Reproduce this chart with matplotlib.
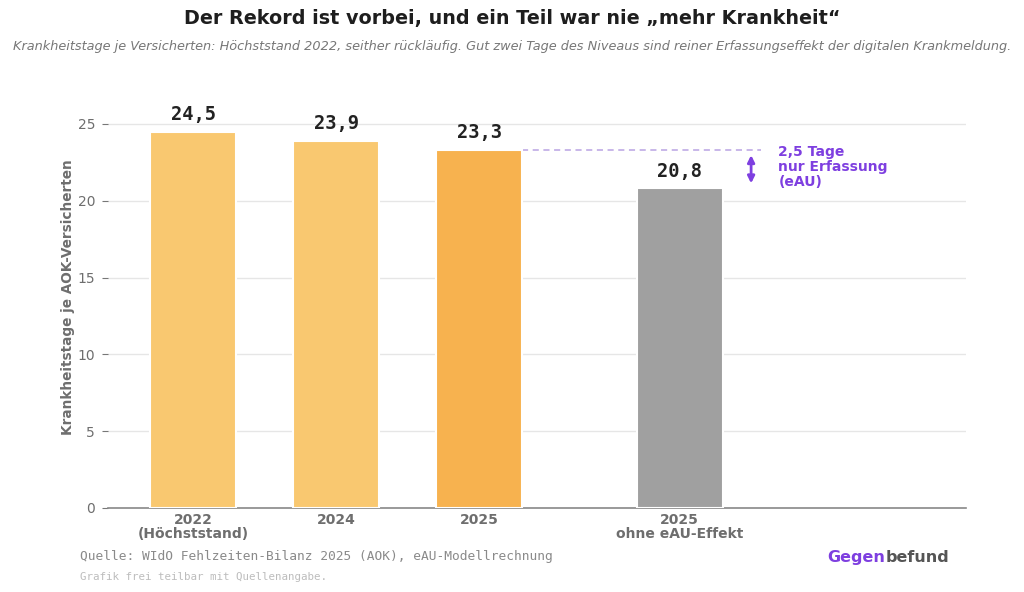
import matplotlib
matplotlib.use("Agg")
import matplotlib.pyplot as plt

# DATA
labels = ["2022\n(Höchststand)", "2024", "2025", "2025\nohne eAU-Effekt"]
positions = [0, 1, 2, 3.4]
values = [24.5, 23.9, 23.3, 20.8]
value_texts = ["24,5", "23,9", "23,3", "20,8"]
bar_colors = ["#F9C870", "#F9C870", "#F7B24F", "#A0A0A0"]
yticks = [0, 5, 10, 15, 20, 25]
effect_text = "2,5 Tage\nnur Erfassung\n(eAU)"

PURPLE = "#7E3FE0"
GREY = "#6E6E6E"

fig = plt.figure(figsize=(10.24, 5.92), dpi=100)
ax = fig.add_axes([0.105, 0.142, 0.838, 0.7135])

ax.bar(positions, values, width=0.6, color=bar_colors, edgecolor="white",
       linewidth=1.5, zorder=3)
for x, v, t in zip(positions, values, value_texts):
    ax.text(x, v + 0.5, t, ha="center", va="bottom", fontsize=13.5,
            fontweight="bold", family="DejaVu Sans Mono", color="#222222")

# eAU effect marker
ax.plot([positions[2] + 0.3, 3.97], [values[2], values[2]], ls=(0, (4, 3)),
        color="#B9A3E3", lw=1.1, zorder=2)
ax.annotate("", xy=(3.9, values[3] + 0.15), xytext=(3.9, values[2] - 0.15),
            arrowprops=dict(arrowstyle="<|-|>", color=PURPLE, lw=2,
                            mutation_scale=10), zorder=4)
ax.text(4.09, values[2] + 0.35, effect_text, color=PURPLE,
        fontsize=10, fontweight="bold", va="top", ha="left",
        linespacing=1.1)

ax.set_xlim(-0.6, 5.4)
ax.set_ylim(0, 27.5)
ax.set_yticks(yticks)
ax.set_xticks(positions)
ax.set_xticklabels(labels, fontsize=10, fontweight="bold", color=GREY,
                   linespacing=1.0)
ax.tick_params(axis="x", length=0, pad=4)
ax.tick_params(axis="y", length=4, color="#777777", labelsize=10,
               labelcolor=GREY, pad=5)
ax.grid(axis="y", color="#E6E6E6", lw=1, zorder=0)
for s in ["top", "right", "left"]:
    ax.spines[s].set_visible(False)
ax.spines["bottom"].set_color("#888888")
ax.spines["bottom"].set_linewidth(1.2)
ax.set_ylabel("Krankheitstage je AOK-Versicherten", fontsize=9.8,
              fontweight="bold", color=GREY)
ax.yaxis.set_label_coords(-0.038, 0.5)

# Titles
fig.text(0.5, 0.968, "Der Rekord ist vorbei, und ein Teil war nie „mehr Krankheit“",
         ha="center", va="center", fontsize=13.8, fontweight="bold",
         color="#1E1E1E")
fig.text(0.5, 0.922, "Krankheitstage je Versicherten: Höchststand 2022, seither rückläufig. "
         "Gut zwei Tage des Niveaus sind reiner Erfassungseffekt der digitalen Krankmeldung.",
         ha="center", va="center", fontsize=9.3, style="italic", color="#777777")

# Footer
fig.text(0.078, 0.06, "Quelle: WIdO Fehlzeiten-Bilanz 2025 (AOK), eAU-Modellrechnung",
         family="DejaVu Sans Mono", fontsize=9.25, color="#8A8A8A", va="center")
fig.text(0.078, 0.025, "Grafik frei teilbar mit Quellenangabe.",
         family="DejaVu Sans Mono", fontsize=7.8, color="#BDBDBD", va="center")
logo = fig.text(0.808, 0.058, "Gegen", fontsize=11.5, fontweight="heavy",
                color=PURPLE, va="center", ha="left")
fig.canvas.draw()
bb = logo.get_window_extent()
x1 = fig.transFigure.inverted().transform((bb.x1, bb.y0))[0]
fig.text(x1, 0.058, "befund", fontsize=11.5, fontweight="heavy", color="#555555",
         va="center", ha="left")

fig.savefig("out.png", dpi=100, facecolor="white")
